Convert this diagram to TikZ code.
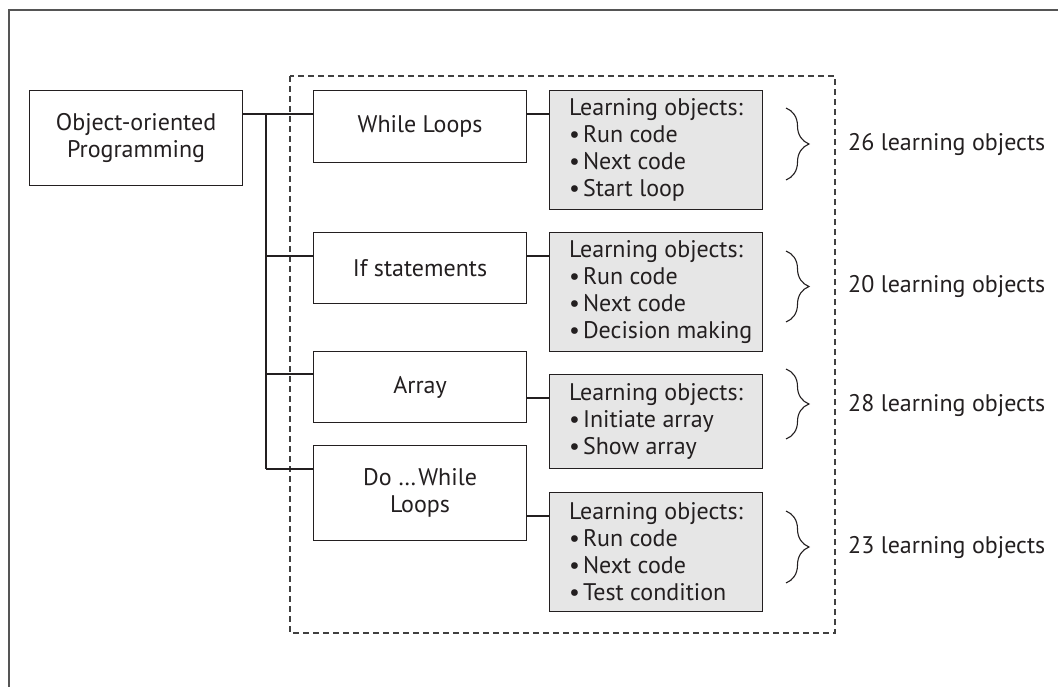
\documentclass[tikz,border=0pt]{standalone}
\usepackage{fontspec}
\setmainfont{PT Sans}
\usetikzlibrary{decorations.pathreplacing}
\definecolor{lofill}{HTML}{E6E6E6}
\definecolor{framegray}{HTML}{555555}
\definecolor{inkblack}{HTML}{231F20}
\newcommand{\lobullet}{•\kern3pt}
\tikzset{
  every node/.style={font=\fontsize{24}{27.5}\selectfont, text=inkblack},
  topicbox/.style={draw=inkblack, line width=1.1pt, fill=white, anchor=north west, inner sep=0pt, align=center},
  lobox/.style={draw=inkblack, line width=1.1pt, fill=lofill, anchor=north west, inner sep=0pt},
  lotext/.style={anchor=west, align=left, inner sep=0pt, font=\fontsize{24}{27}\selectfont},
  conn/.style={line width=1.1pt, draw=inkblack},
  bracestyle/.style={decorate, decoration={brace, amplitude=23pt}, line width=1.1pt, draw=inkblack},
  counttext/.style={anchor=west, inner sep=0pt},
  dashedframe/.style={draw=black!75, line width=1.1pt, dash pattern=on 6pt off 4pt},
  outerframe/.style={draw=framegray, line width=1.5pt}
}
\begin{document}
\begin{tikzpicture}[x=1pt,y=-1pt]
\useasboundingbox (0,0) rectangle (1058,687);
% outer frame (top and left edges)
\draw[outerframe] (1058,10) -- (9,10) -- (9,687);
% dashed group
\draw[dashedframe] (290,76) rectangle (835,633);
% main topic
\node[topicbox, minimum width=213pt, minimum height=95pt] (oop) at (29,90) {Object-oriented\\Programming};
% sub topics
\node[topicbox, minimum width=213pt, minimum height=72pt] (while) at (313,90) {While Loops};
\node[topicbox, minimum width=213pt, minimum height=71pt] (if) at (313,232) {If statements};
\node[topicbox, minimum width=213pt, minimum height=71pt] (array) at (313,351) {Array};
\node[topicbox, minimum width=213pt, minimum height=95pt] (do) at (313,445) {Do …\kern2pt While\\Loops};
% learning object boxes
\node[lobox, minimum width=213pt, minimum height=119pt] (lo1) at (549,90) {};
\node[lobox, minimum width=213pt, minimum height=119pt] (lo2) at (549,232) {};
\node[lobox, minimum width=213pt, minimum height=94pt] (lo3) at (549,374) {};
\node[lobox, minimum width=213pt, minimum height=119pt] (lo4) at (549,492) {};
\node[lotext] (lo1t) at ([xshift=20pt]lo1.west) {Learning objects:\\\lobullet Run code\\\lobullet Next code\\\lobullet Start loop};
\node[lotext] (lo2t) at ([xshift=20pt]lo2.west) {Learning objects:\\\lobullet Run code\\\lobullet Next code\\\lobullet Decision making};
\node[lotext] (lo3t) at ([xshift=20pt]lo3.west) {Learning objects:\\\lobullet Initiate array\\\lobullet Show array};
\node[lotext] (lo4t) at ([xshift=20pt]lo4.west) {Learning objects:\\\lobullet Run code\\\lobullet Next code\\\lobullet Test condition};
% connector coordinates
\coordinate (c1) at (266,114);
\coordinate (c2) at (266,256);
\coordinate (c3) at (266,374);
\coordinate (c4) at (266,469);
\coordinate (d3) at (540,398);
\coordinate (d4) at (540,516);
% connectors
\draw[conn] (c1 -| oop.east) -- (c1 -| while.west);
\draw[conn] (c1) -- (c4);
\draw[conn] (c2) -- (c2 -| if.west);
\draw[conn] (c3) -- (c3 -| array.west);
\draw[conn] (c4) -- (c4 -| do.west);
\draw[conn] (c1 -| while.east) -- (c1 -| lo1.west);
\draw[conn] (c2 -| if.east) -- (c2 -| lo2.west);
\draw[conn] (d3 -| array.east) -- (d3 -| lo3.west);
\draw[conn] (d4 -| do.east) -- (d4 -| lo4.west);
% braces
\coordinate (b1t) at (786,108); \coordinate (b1b) at (786,180);
\coordinate (b2t) at (786,251); \coordinate (b2b) at (786,322);
\coordinate (b3t) at (786,369); \coordinate (b3b) at (786,439);
\coordinate (b4t) at (786,511); \coordinate (b4b) at (786,583);
\draw[bracestyle] (b1t) -- (b1b);
\draw[bracestyle] (b2t) -- (b2b);
\draw[bracestyle] (b3t) -- (b3b);
\draw[bracestyle] (b4t) -- (b4b);
% counts
\node[counttext] (n1) at (848,145) {26 learning objects};
\node[counttext] (n2) at (848,287) {20 learning objects};
\node[counttext] (n3) at (848,405) {28 learning objects};
\node[counttext] (n4) at (848,547) {23 learning objects};
\end{tikzpicture}
\end{document}
